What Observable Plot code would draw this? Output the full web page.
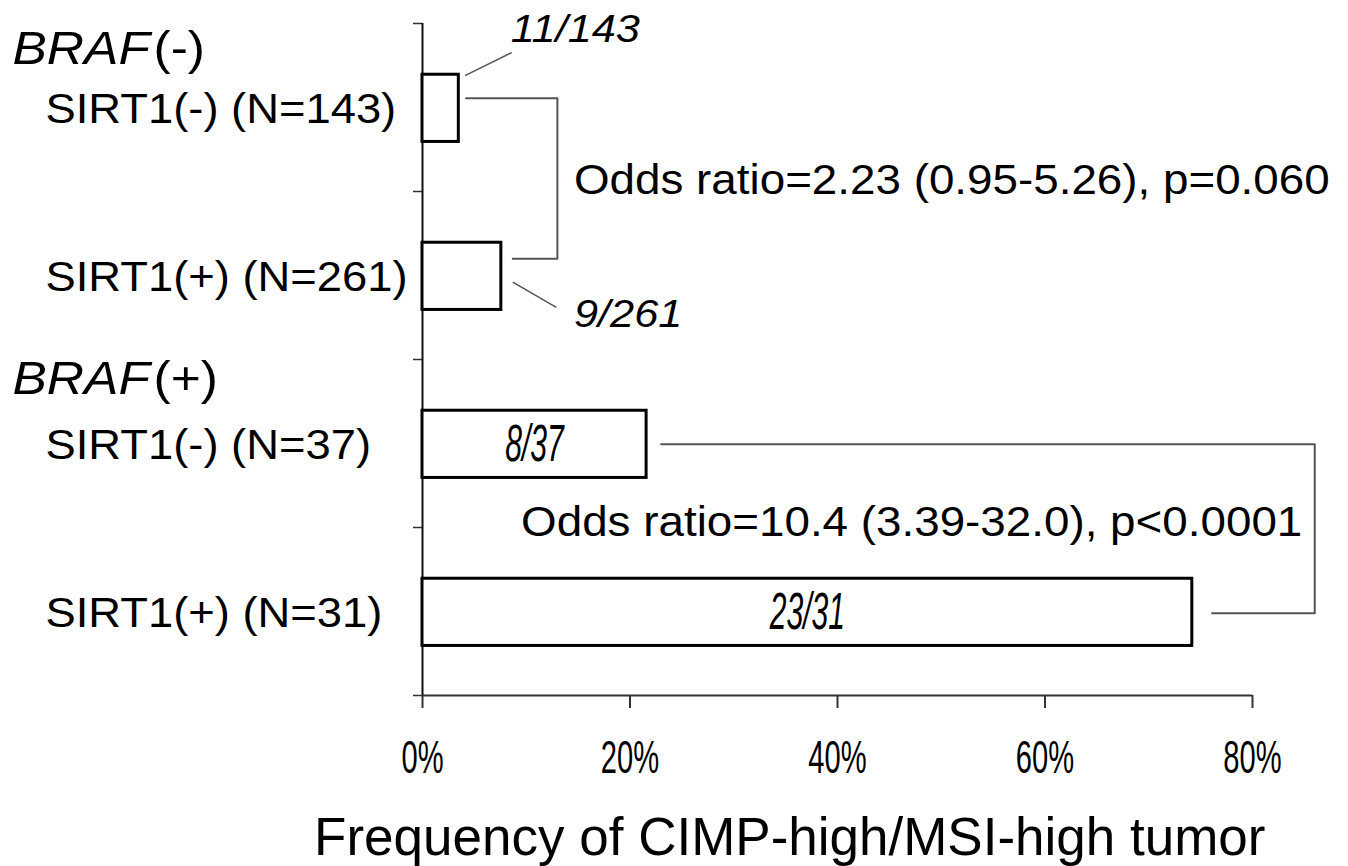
<!DOCTYPE html>
<html><head><meta charset="utf-8">
<script src="https://cdn.jsdelivr.net/npm/d3@7"></script>
<script src="https://cdn.jsdelivr.net/npm/@observablehq/plot@0.6"></script>
<style>
body{margin:0;background:#fff;}
#chart svg{display:block;}
</style></head><body><div id="chart"></div>
<script>
// ---- data ----
const groupNames = ["BRAF", "BRAF"];
const groupSigns = ["(-)", "(+)"];
const rowLabels = ["SIRT1(-) (N=143)", "SIRT1(+) (N=261)", "SIRT1(-) (N=37)", "SIRT1(+) (N=31)"];
const frequencies = [0.035, 0.076, 0.216, 0.742];
const fractions = ["11/143", "9/261", "8/37", "23/31"];
const oddsTexts = ["Odds ratio=2.23 (0.95-5.26), p=0.060", "Odds ratio=10.4 (3.39-32.0), p<0.0001"];
const comparisons = [[0, 1], [2, 3]];
const xTicks = [0, 0.2, 0.4, 0.6, 0.8];
const xLabel = "Frequency of CIMP-high/MSI-high tumor";

// ---- layout (annotation placement) ----
const groupRowY = [0.152, 2.116];
const bracketLayout = [
  {gapA: 0.007, gapB: 0.011, dyA: -0.06, dyB: -0.105, vx: 0.13},
  {gapA: 0.014, gapB: 0.019, dyA: 0.0, dyB: 0.005, vx: 0.86}
];
const oddsLayout = [
  {x: 0.146, y: 0.935},
  {x: 0.848, y: 2.97}
];
const outsideLabels = [
  {i: 0, dx0: 0.006, y0: 0.31, x1: 0.086, y1: 0.173, tx: 0.085, ty: 0.036},
  {i: 1, dx0: 0.011, y0: 1.54, x1: 0.129, y1: 1.69, tx: 0.146, ty: 1.732}
];
const insideRows = [2, 3];

const rows = rowLabels.map((label, i) => ({i, label, f: frequencies[i], frac: fractions[i]}));
const groups = groupNames.map((g, k) => ({name: g, sign: groupSigns[k], y: groupRowY[k]}));

const bracketPts = [];
comparisons.forEach(([a, b], k) => {
  const L = bracketLayout[k];
  bracketPts.push({k, x: frequencies[a] + L.gapA, y: a + 0.505 + L.dyA});
  bracketPts.push({k, x: L.vx, y: a + 0.505 + L.dyA});
  bracketPts.push({k, x: L.vx, y: b + 0.505 + L.dyB});
  bracketPts.push({k, x: frequencies[b] + L.gapB, y: b + 0.505 + L.dyB});
});
const odds = oddsTexts.map((t, k) => ({t, ...oddsLayout[k]}));
const leaders = outsideLabels.map(o => ({...o, x0: frequencies[o.i] + o.dx0, text: fractions[o.i]}));
const inside = insideRows.map(i => rows[i]);

const font = "'Liberation Sans', Arial, Helvetica, sans-serif";
const sx = s => ({ariaDescription: "sx-" + s});

const chart = Plot.plot({
  width: 1348,
  height: 866,
  marginLeft: 422,
  marginRight: 96,
  marginTop: 23,
  marginBottom: 171,
  style: {fontFamily: font, background: "#fff", color: "#000"},
  x: {domain: [0, 0.8]},
  y: {domain: [0, 4], range: [23, 695], axis: null},
  marks: [
    // axes
    Plot.ruleY([4], {x1: 0, x2: 0.8, stroke: "#333", strokeWidth: 2}),
    Plot.axisX({ticks: xTicks, tickSize: 13, tickFormat: () => "", label: null, stroke: "#333", strokeWidth: 2}),
    Plot.axisY({ticks: [0, 1, 2, 3, 4], tickSize: 9, tickFormat: () => "", label: null, stroke: "#333", strokeWidth: 1.5}),
    Plot.ruleX([0], {y1: 0, y2: 4, stroke: "#111", strokeWidth: 2}),
    Plot.text(xTicks, {x: d => d, y: 4, dy: 62, text: d3.format(".0%"), fontSize: 47, lineAnchor: "middle", ...sx(0.62)}),
    Plot.text([xLabel], {x: 0.354, y: 4, dy: 143, text: d => d, fontSize: 53, lineAnchor: "middle"}),
    // bars
    Plot.rectX(rows, {x1: 0, x2: "f", y1: d => d.i + 0.305, y2: d => d.i + 0.705, fill: "white", stroke: "#000", strokeWidth: 3}),
    // row labels
    Plot.text(rows, {x: 0, y: d => d.i + 0.51, dx: -377, text: "label", textAnchor: "start", lineAnchor: "middle", fontSize: 42, ...sx(1.08)}),
    Plot.text(groups, {x: 0, y: "y", dx: -410, text: "name", textAnchor: "start", lineAnchor: "middle", fontSize: 46, fontStyle: "italic", ...sx(1.12)}),
    Plot.text(groups, {x: 0, y: "y", dx: -269, text: "sign", textAnchor: "start", lineAnchor: "middle", fontSize: 46, ...sx(1.12)}),
    // brackets
    Plot.line(bracketPts, {x: "x", y: "y", z: "k", stroke: "#555", strokeWidth: 2}),
    Plot.text([odds[0]], {x: "x", y: "y", text: "t", textAnchor: "start", lineAnchor: "middle", fontSize: 42, ...sx(1.09)}),
    Plot.text([odds[1]], {x: "x", y: "y", text: "t", textAnchor: "end", lineAnchor: "middle", fontSize: 42, ...sx(1.09)}),
    // leaders and fraction labels
    Plot.link(leaders, {x1: "x0", y1: "y0", x2: "x1", y2: "y1", stroke: "#555", strokeWidth: 1.5}),
    Plot.text(leaders, {x: "tx", y: "ty", text: "text", textAnchor: "start", lineAnchor: "middle", fontSize: 39, fontStyle: "italic", ...sx(1.11)}),
    Plot.text(inside, {x: d => d.f / 2, y: d => d.i + 0.505, text: "frac", lineAnchor: "middle", fontSize: 51, fontStyle: "italic", ...sx(0.59)})
  ]
});

// horizontal stretch of selected text groups around their anchor
chart.querySelectorAll("g[aria-description^='sx-']").forEach(g => {
  const s = +g.getAttribute("aria-description").slice(3);
  g.querySelectorAll("text").forEach(el => {
    const t = el.getAttribute("transform");
    if (t) el.setAttribute("transform", t + ` scale(${s},1)`);
    else {
      const x = +el.getAttribute("x") || 0, y = +el.getAttribute("y") || 0;
      el.setAttribute("transform", `translate(${x},${y}) scale(${s},1) translate(${-x},${-y})`);
    }
  });
});

document.getElementById("chart").appendChild(chart);
</script>
</body></html>
